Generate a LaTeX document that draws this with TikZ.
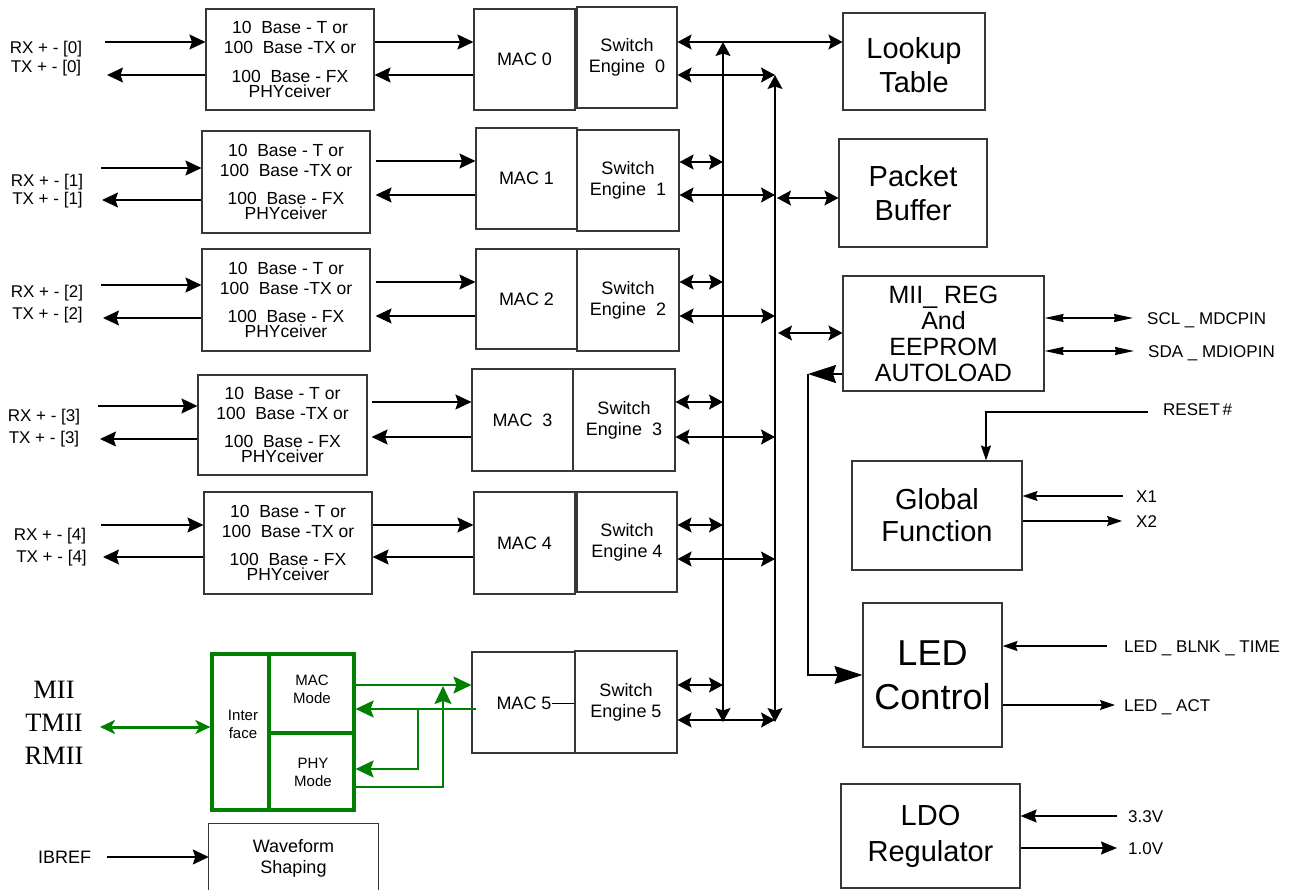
\documentclass[tikz,border=0pt]{standalone}
\usepackage{fontspec}
\setmainfont{Liberation Sans}
\newfontfamily\miiserif{Liberation Serif}
\usetikzlibrary{arrows.meta,fit}
\definecolor{gline}{RGB}{0,128,0}
\definecolor{boxline}{RGB}{55,55,55}
\newcommand{\fsz}[2]{\fontsize{#1}{#2}\selectfont}
\newcommand{\phytxt}{10\ \ Base - T or\\100\ \ Base -TX or\\[8.4pt]100\ \ Base - FX\\[-5pt]PHYceiver}
\begin{document}
\begin{tikzpicture}[x=1pt,y=-1pt,
 rect/.style n args={4}{at={({(#1+#3)/2},{(#2+#4)/2})},minimum width={(#3)-(#1)},minimum height={(#4)-(#2)}},
 box/.style={draw=boxline,line width=1.1pt,inner sep=0pt,align=center},
 phyb/.style={box,font=\fsz{17.5}{20}},
 macb/.style={box,font=\fsz{18}{21}},
 bigb/.style={box,font=\fsz{29}{34}},
 lbl/.style={inner sep=0pt,font=\fsz{17}{20},text height=12.2pt,text depth=0pt},
 gbox/.style={draw=gline,line width=3.2pt,inner sep=0pt},
 gtxt/.style={inner sep=0pt,align=center,font=\fsz{15}{18}},
 lnw/.style={line width=1.4pt},
 arw/.style={lnw,-{Stealth[length=16pt,width=15pt,inset=2.5pt]}},
 darw/.style={lnw,{Stealth[length=14pt,width=15pt,inset=2.5pt]}-{Stealth[length=14pt,width=15pt,inset=2.5pt]}},
 sarw/.style={lnw,-{Stealth[length=15pt,width=10pt,inset=2pt]}},
 marw/.style={lnw,-{Stealth[length=16pt,width=13pt,inset=2pt]}},
 sdarw/.style={lnw,{Stealth[length=19pt,width=8pt,inset=1pt]}-{Stealth[length=19pt,width=8pt,inset=1pt]}},
 barw/.style={lnw,-{Stealth[length=28pt,width=18pt,inset=3pt]}},
 garw/.style={color=gline,line width=2pt,-{Stealth[length=18pt,width=17pt,inset=3pt]}},
 gdarw/.style={color=gline,line width=3pt,{Stealth[length=15pt,width=14pt,inset=4pt]}-{Stealth[length=15pt,width=14pt,inset=4pt]}}
]
\useasboundingbox (0,0) rectangle (1296,890);
\fill[white] (0,0) rectangle (1296,890);

% PHY boxes
\node[phyb,rect={206}{9}{374}{110}] (phy0) {\phytxt};
\node[phyb,rect={202}{131}{370}{233}] (phy1) {\phytxt};
\node[phyb,rect={202}{249}{370}{351}] (phy2) {\phytxt};
\node[phyb,rect={198}{375}{367}{475}] (phy3) {\phytxt};
\node[phyb,rect={204}{492}{372}{594}] (phy4) {\phytxt};

% MAC and switch engines
\node[macb,rect={474}{9}{575}{110}] (mac0) {MAC 0};
\node[macb,rect={577}{7}{677}{108}] (se0) {Switch\\Engine\ \ 0};
\node[macb,rect={476}{128}{577}{229}] (mac1) {MAC 1};
\node[macb,rect={577}{130}{679}{231}] (se1) {Switch\\Engine\ \ 1};
\node[macb,rect={476}{249}{577}{349}] (mac2) {MAC 2};
\node[macb,rect={577}{249}{679}{351}] (se2) {Switch\\Engine\ \ 2};
\node[macb,rect={472}{369}{573}{471}] (mac3) {MAC\ \ 3};
\node[macb,rect={573}{369}{675}{471}] (se3) {Switch\\Engine\ \ 3};
\node[macb,rect={474}{492}{575}{594}] (mac4) {MAC 4};
\node[macb,rect={577}{492}{677}{592}] (se4) {Switch\\Engine 4};
\node[macb,rect={472}{652}{575}{753}] (mac5) {};
\node[macb,rect={575}{651}{677}{753}] (se5) {Switch\\Engine 5};
\node[inner sep=0pt,font=\fsz{18}{21}] (mac5t) at (524,703) {MAC 5};
\draw[line width=1pt] (mac5t.east) -- (mac5t.east -| se5.west);

% right blocks
\node[bigb,rect={843}{13}{985}{110}] (lut) {\rule{0pt}{28pt}Lookup\\Table};
\node[bigb,rect={839}{139}{987}{247}] (pbuf) {Packet\\Buffer};
\node[box,font=\fsz{25}{26},rect={843}{276}{1044}{391}] (mii) {MII\_ REG\\And\\EEPROM\\AUTOLOAD};
\node[bigb,font=\fsz{29}{32},rect={852}{461}{1022}{570}] (glob) {Global\\Function};
\node[box,font=\fsz{36}{44},rect={863}{603}{1002}{747}] (led) {LED\\Control};
\node[bigb,font=\fsz{29}{36},rect={841}{784}{1020}{888}] (ldo) {LDO\\Regulator};

% green interface block
\node[gbox,rect={212}{654}{269}{810}] (iface) {};
\node[gbox,rect={269}{654}{354}{733}] (macm) {};
\node[gbox,rect={269}{733}{354}{810}] (phym) {};
\node[gtxt] (ifacet) at (243,724) {Inter\\face};
\node[gtxt] (macmt) at (312,689) {MAC\\Mode};
\node[gtxt] (phymt) at (313,772) {PHY\\Mode};
\node[inner sep=0pt,align=center,font=\miiserif\fsz{26.5}{33}] (miitxt) at (54,723) {MII\\TMII\\RMII};

% waveform shaping (cut at bottom edge)
\node[inner sep=0pt,rect={209}{824}{378}{890}] (wf) {};
\draw[draw=boxline,line width=1.1pt] (wf.south west) -- (wf.north west) -- (wf.north east) -- (wf.south east);
\node[inner sep=0pt,align=center,font=\fsz{18}{21}] (wft) at (293.5,858) {Waveform\\Shaping};

% left labels
\node[lbl] (rx0) at (46,47) {RX + - [0]};
\node[lbl] (tx0) at (46,66) {TX + - [0]};
\node[lbl] (rx1) at (47,180) {RX + - [1]};
\node[lbl] (tx1) at (47.5,198) {TX + - [1]};
\node[lbl] (rx2) at (47,291) {RX + - [2]};
\node[lbl] (tx2) at (47.5,313.5) {TX + - [2]};
\node[lbl] (rx3) at (44,415.5) {RX + - [3]};
\node[lbl] (tx3) at (44,437) {TX + - [3]};
\node[lbl] (rx4) at (50,534) {RX + - [4]};
\node[lbl] (tx4) at (51.5,556) {TX + - [4]};
\node[lbl,anchor=west,font=\fsz{18}{20}] (ibref) at (38,857) {IBREF};

% right labels
\node[lbl,anchor=west] (scl) at (1147,318) {SCL \_ MDCPIN};
\node[lbl,anchor=west] (sda) at (1148,351) {SDA \_ MDIOPIN};
\node[lbl,anchor=west] (reset) at (1163,409) {RESET\,\#};
\node[lbl,anchor=west] (x1) at (1136,496) {X1};
\node[lbl,anchor=west] (x2) at (1136,521) {X2};
\node[lbl,anchor=west] (blnk) at (1124,646) {LED \_ BLNK \_ TIME};
\node[lbl,anchor=west] (act) at (1124,705) {LED \_ ACT};
\node[lbl,anchor=west] (v33) at (1128,816) {3.3V};
\node[lbl,anchor=west] (v10) at (1128,848) {1.0V};

% free ends
\coordinate (rx0s) at (105,42);  \coordinate (tx0e) at (107,75);
\coordinate (rx1s) at (101,168); \coordinate (tx1e) at (102,200);
\coordinate (rx2s) at (101,285); \coordinate (tx2e) at (103,318);
\coordinate (rx3s) at (98,406);  \coordinate (tx3e) at (100,439);
\coordinate (rx4s) at (101,525); \coordinate (tx4e) at (103,557);
\coordinate (ibs) at (107,857);
\coordinate (aT) at (723,42);  \coordinate (aB) at (723,722);
\coordinate (bT) at (775,75);  \coordinate (bB) at (775,722);
\coordinate (fb) at (808,374);
\coordinate (gL) at (100,727);
\coordinate (gj1) at (418,709);
\coordinate (gj2) at (443,686);

% RX / TX
\draw[arw] (rx0s) -- (phy0.west |- rx0s);
\draw[arw] (phy0.west |- tx0e) -- (tx0e);
\draw[arw] (rx1s) -- (phy1.west |- rx1s);
\draw[arw] (phy1.west |- tx1e) -- (tx1e);
\draw[arw] (rx2s) -- (phy2.west |- rx2s);
\draw[arw] (phy2.west |- tx2e) -- (tx2e);
\draw[arw] (rx3s) -- (phy3.west |- rx3s);
\draw[arw] (phy3.west |- tx3e) -- (tx3e);
\draw[arw] (rx4s) -- (phy4.west |- rx4s);
\draw[arw] (phy4.west |- tx4e) -- (tx4e);
\draw[arw] (ibs) -- (wf.west |- ibs);

% PHY <-> MAC
\draw[arw] (phy0.east |- 0,42) -- (mac0.west |- 0,42);
\draw[arw] (mac0.west |- 0,75) -- (phy0.east |- 0,75);
\draw[arw] ([xshift=5pt]phy1.east |- 0,161) -- (mac1.west |- 0,161);
\draw[arw] (mac1.west |- 0,195) -- ([xshift=5pt]phy1.east |- 0,195);
\draw[arw] ([xshift=5pt]phy2.east |- 0,282) -- (mac2.west |- 0,282);
\draw[arw] (mac2.west |- 0,316) -- ([xshift=5pt]phy2.east |- 0,316);
\draw[arw] ([xshift=4pt]phy3.east |- 0,402) -- (mac3.west |- 0,402);
\draw[arw] (mac3.west |- 0,437) -- ([xshift=4pt]phy3.east |- 0,437);
\draw[arw] (phy4.east |- 0,525) -- (mac4.west |- 0,525);
\draw[arw] (mac4.west |- 0,557) -- (phy4.east |- 0,557);

% buses
\draw[darw] (aB) -- (aT);
\draw[darw] (bB) -- (bT);

% switch engine connections
\draw[darw] (se0.east |- aT) -- (lut.west |- aT);
\draw[darw] (se0.east |- bT) -- (bT);
\draw[darw] (se1.east |- 0,162) -- (aT |- 0,162);
\draw[darw] (se1.east |- 0,195) -- (bT |- 0,195);
\draw[darw] (se2.east |- 0,282) -- (aT |- 0,282);
\draw[darw] (se2.east |- 0,316) -- (bT |- 0,316);
\draw[darw] (se3.east |- 0,402) -- (aT |- 0,402);
\draw[darw] (se3.east |- 0,437) -- (bT |- 0,437);
\draw[darw] (se4.east |- 0,525) -- (aT |- 0,525);
\draw[darw] (se4.east |- 0,559) -- (bT |- 0,559);
\draw[darw] (se5.east |- 0,685) -- (aT |- 0,685);
\draw[darw] (se5.east |- 0,720) -- (bT |- 0,720);
\draw[darw] ([xshift=2pt]bT |- 0,198) -- (pbuf.west |- 0,198);
\draw[darw] ([xshift=3pt]bT |- 0,333) -- (mii.west |- 0,333);

% MII feedback to LED
\draw[barw] (mii.west |- fb) -- (fb);
\draw[barw] (fb) |- (led.west);

% right side signals
\draw[sdarw] (mii.east |- scl.west) -- ([xshift=-14pt]scl.west);
\draw[sdarw] (mii.east |- sda.west) -- ([xshift=-14pt]sda.west);
\draw[sarw] ([xshift=-15pt,yshift=-3pt]reset.west) -| ([xshift=49pt]glob.north);
\draw[sarw] ([xshift=-13pt]x1.west) -- (x1.west -| glob.east);
\draw[sarw] (glob.east |- x2.west) -- ([xshift=-14pt]x2.west);
\draw[sarw] ([xshift=-17pt]blnk.west) -- (blnk.west -| led.east);
\draw[sarw] (led.east |- act.west) -- ([xshift=-9pt]act.west);
\draw[marw] ([xshift=-11pt]v33.west) -- (v33.west -| ldo.east);
\draw[marw] (ldo.east |- v10.west) -- ([xshift=-11pt]v10.west);

% green connections
\draw[gdarw] (gL) -- (iface.west |- gL);
\draw[garw] (macm.east |- 0,685) -- (mac5.west |- 0,685);
\draw[garw] ([xshift=5pt]mac5.west |- 0,709) -- (macm.east |- 0,709);
\draw[garw] (gj1) |- (phym.east |- 0,769);
\draw[garw] (phym.east |- 0,787) -| (gj2);
\end{tikzpicture}
\end{document}
